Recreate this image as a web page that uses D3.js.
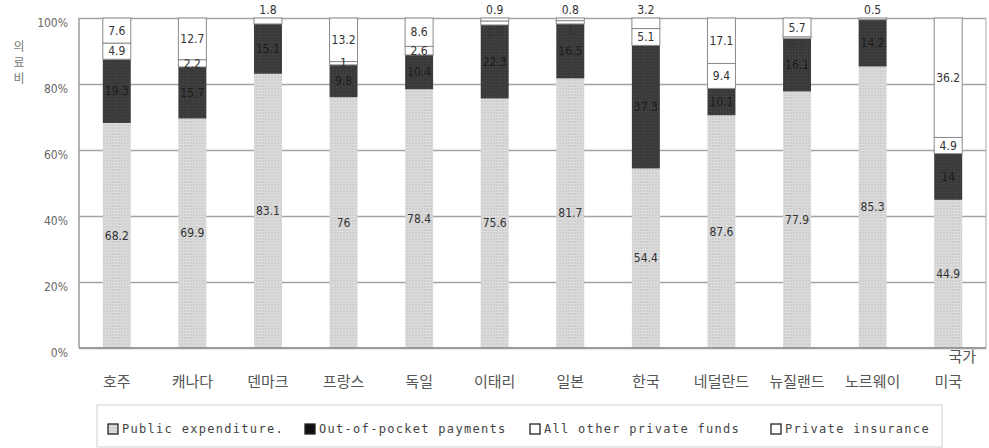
<!DOCTYPE html>
<html>
<head>
<meta charset="utf-8">
<script src="https://cdn.jsdelivr.net/npm/d3@7"></script>
<style>
  html, body { margin: 0; padding: 0; background: #fff; }
  svg { display: block; }
</style>
</head>
<body>
<svg id="chart" width="989" height="448"></svg>
<script>
// ---- data ----
const countries = ["호주","캐나다","덴마크","프랑스","독일","이태리","일본","한국","네덜란드","뉴질랜드","노르웨이","미국"];
const publicExpenditure = [68.2, 69.9, 83.1, 76, 78.4, 75.6, 81.7, 54.4, 87.6, 77.9, 85.3, 44.9];
const outOfPocket       = [19.3, 15.7, 15.1, 9.8, 10.4, 22.3, 16.5, 37.3, 10.1, 16.1, 14.2, 14];
const otherPrivateFunds = [4.9, 2.2, 0, 1, 2.6, 1.2, 1.0, 5.1, 9.4, 0.5, 0, 4.9];
const privateInsurance  = [7.6, 12.7, 1.8, 13.2, 8.6, 0.9, 0.8, 3.2, 17.1, 5.7, 0.5, 36.2];
const seriesNames = ["Public expenditure.", "Out-of-pocket payments", "All other private funds", "Private insurance"];
const yTicks = [0, 0.2, 0.4, 0.6, 0.8, 1];
const yTitle = "의료비";
const xTitle = "국가";

// ---- layout ----
const svg = d3.select("#chart");
const plot = { left: 79, right: 986, top: 18, bottom: 348 };

const defs = svg.append("defs");
const pPub = defs.append("pattern").attr("id", "pubPat").attr("patternUnits", "userSpaceOnUse")
  .attr("width", 3).attr("height", 3);
pPub.append("rect").attr("width", 3).attr("height", 3).attr("fill", "#cfcfcf");
pPub.append("rect").attr("width", 3).attr("height", 1).attr("fill", "#dedede");
pPub.append("rect").attr("width", 1).attr("height", 3).attr("fill", "#dadada");
const pDark = defs.append("pattern").attr("id", "darkPat").attr("patternUnits", "userSpaceOnUse")
  .attr("width", 3).attr("height", 3);
pDark.append("rect").attr("width", 3).attr("height", 3).attr("fill", "#3a3a3a");
pDark.append("rect").attr("width", 1).attr("height", 1).attr("fill", "#4a4a4a");

const keys = ["pub", "oop", "other", "ins"];
const fills = { pub: "url(#pubPat)", oop: "url(#darkPat)", other: "#ffffff", ins: "#ffffff" };
const strokes = { pub: "none", oop: "none", other: "#8a8a8a", ins: "#8a8a8a" };

const rows = countries.map((c, i) => ({
  country: c,
  pub: publicExpenditure[i],
  oop: outOfPocket[i],
  other: otherPrivateFunds[i],
  ins: privateInsurance[i]
}));

const stacked = d3.stack().keys(keys).offset(d3.stackOffsetExpand)(rows);

const x = d3.scaleBand().domain(countries).range([plot.left, plot.right]).paddingInner(0.63).paddingOuter(0.315);
const y = d3.scaleLinear().domain([0, 1]).range([plot.bottom, plot.top]);

// gridlines
const grid = svg.append("g").attr("transform", `translate(${plot.left},0)`)
  .call(d3.axisLeft(y).tickValues(yTicks).tickSize(-(plot.right - plot.left)).tickFormat(""));
grid.select(".domain").remove();
grid.selectAll("line").attr("stroke", "#a3a3a3").attr("stroke-width", 1.5);

// frame
svg.append("line").attr("x1", plot.right).attr("x2", plot.right).attr("y1", y(1)).attr("y2", y(0))
  .attr("stroke", "#b5b5b5").attr("stroke-width", 1.2);
svg.append("line").attr("x1", plot.left).attr("x2", plot.left).attr("y1", y(1)).attr("y2", y(0))
  .attr("stroke", "#9a9a9a").attr("stroke-width", 1.5);

// bars
const layer = svg.append("g").selectAll("g").data(stacked).join("g")
  .attr("fill", d => fills[d.key]).attr("stroke", d => strokes[d.key]);
layer.selectAll("rect").data(d => d.map(v => ({ v, key: d.key })).filter(o => o.v.data[o.key] > 0)).join("rect")
  .attr("x", o => x(o.v.data.country))
  .attr("width", x.bandwidth())
  .attr("y", o => y(o.v[1]))
  .attr("height", o => Math.max(0, y(o.v[0]) - y(o.v[1])));

// bottom axis line
svg.append("line").attr("x1", plot.left).attr("x2", plot.right).attr("y1", y(0)).attr("y2", y(0))
  .attr("stroke", "#9a9a9a").attr("stroke-width", 2);

// value labels (tiny segments are nudged out of each other's way)
const insStack = stacked.find(s => s.key === "ins");
const lab = svg.append("g").attr("font-family", "'DejaVu Sans Condensed', 'DejaVu Sans', sans-serif")
  .attr("font-size", 12).attr("text-anchor", "middle");
stacked.forEach(s => {
  lab.selectAll(null).data(s.map((v, i) => ({ v, i })).filter(o => o.v.data[s.key] > 0)).join("text")
    .attr("x", o => x(o.v.data.country) + x.bandwidth() / 2)
    .attr("y", o => {
      const v = o.v;
      const h = y(v[0]) - y(v[1]);
      if (s.key === "ins" && h < 12) return y(v[1]) - 8;
      if (s.key === "other" && h < 12) {
        const iv = insStack[o.i];
        const ih = y(iv[0]) - y(iv[1]);
        if (ih < 22) return y(v[0]) + 7;
      }
      return (y(v[0]) + y(v[1])) / 2;
    })
    .attr("dy", "0.35em")
    .attr("fill", s.key === "oop" ? "#1c1c1c" : "#333")
    .text(o => d3.format("~g")(o.v.data[s.key]));
});

// y axis labels
const yAxis = svg.append("g").attr("transform", `translate(${plot.left - 11},5)`)
  .call(d3.axisLeft(y).tickValues(yTicks).tickSize(0).tickPadding(0).tickFormat(d3.format(".0%")));
yAxis.select(".domain").remove();
yAxis.selectAll("text").attr("font-family", "'DejaVu Sans Condensed', sans-serif").attr("font-size", 12).attr("fill", "#666");

// y title (vertical stacked chars)
svg.append("text").attr("font-family", "'Noto Sans CJK KR', sans-serif")
  .attr("font-size", 12).attr("fill", "#777").attr("text-anchor", "middle")
  .selectAll("tspan").data(Array.from(yTitle)).join("tspan")
  .attr("x", 19).attr("y", (d, i) => 51 + i * 16).text(d => d);

// x axis labels
const xAxis = svg.append("g").attr("transform", `translate(0,${plot.bottom})`)
  .call(d3.axisBottom(x).tickSize(0).tickPadding(28));
xAxis.select(".domain").remove();
xAxis.selectAll("text").attr("font-family", "'Noto Sans CJK KR', sans-serif").attr("font-size", 15).attr("fill", "#555");

// x title
svg.append("text").attr("x", x(countries[countries.length - 1]) + x.bandwidth() / 2 + 14).attr("y", 362)
  .attr("font-family", "'Noto Sans CJK KR', sans-serif").attr("font-size", 15).attr("fill", "#555")
  .attr("text-anchor", "middle").text(xTitle);

// legend
const lg = svg.append("g");
lg.append("rect").attr("x", 97).attr("y", 405).attr("width", 845).attr("height", 42)
  .attr("fill", "#fff").attr("stroke", "#d0d0d0");
const legendFills = ["url(#pubPat)", "#111", "#fff", "#fff"];
const legendX = [108, 305, 530, 771];
seriesNames.forEach((n, i) => {
  lg.append("rect").attr("x", legendX[i]).attr("y", 424).attr("width", 10).attr("height", 10)
    .attr("fill", legendFills[i]).attr("stroke", "#222").attr("stroke-width", 1.3);
  lg.append("text").attr("x", legendX[i] + 14).attr("y", 433)
    .attr("font-family", "'DejaVu Sans Mono', monospace").attr("font-size", 12)
    .attr("letter-spacing", 1.3).attr("fill", "#444").text(n);
});
</script>
</body>
</html>
